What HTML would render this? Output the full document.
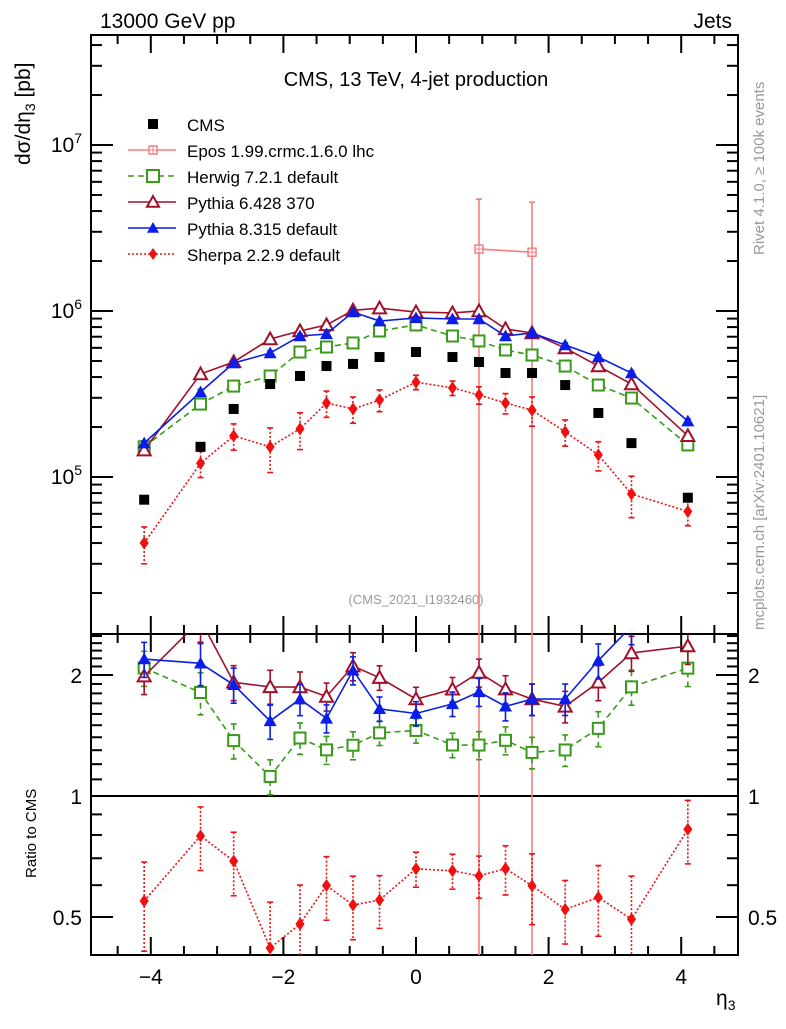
<!DOCTYPE html>
<html><head><meta charset="utf-8"><style>
body{margin:0;background:#fff;}
svg text{font-family:"Liberation Sans",sans-serif;}
</style></head><body>
<svg id="c" width="786" height="1024" xmlns="http://www.w3.org/2000/svg">
<defs>
<clipPath id="cm"><rect x="91" y="35" width="647" height="599"/></clipPath>
<clipPath id="cr"><rect x="91" y="634" width="647" height="321"/></clipPath>
</defs>
<text x="100" y="28" font-size="21">13000 GeV pp</text>
<text x="732" y="28" font-size="21" text-anchor="end">Jets</text>
<text x="416" y="86" font-size="20" text-anchor="middle">CMS, 13 TeV, 4-jet production</text>
<text x="416" y="604" font-size="13" fill="#999" text-anchor="middle">(CMS_2021_I1932460)</text>
<text transform="translate(764,255) rotate(-90)" font-size="15" fill="#999">Rivet 4.1.0, ≥ 100k events</text>
<text transform="translate(764,630) rotate(-90)" font-size="15" fill="#999">mcplots.cern.ch [arXiv:2401.10621]</text>
<text transform="translate(30,165) rotate(-90)" font-size="21">dσ/dη<tspan font-size="14" dy="5">3</tspan><tspan dy="-5"> [pb]</tspan></text>
<text transform="translate(36,878) rotate(-90)" font-size="15">Ratio to CMS</text>
<text x="716" y="1005" font-size="21">η<tspan font-size="14" dy="5">3</tspan></text>
<g id="axes"></g>
<g id="marks"></g>
<g id="legend"></g>
</svg>
<script>
const etas=[-4.1,-3.25,-2.75,-2.2,-1.75,-1.35,-0.95,-0.55,0,0.55,0.95,1.35,1.75,2.25,2.75,3.25,4.1];
const cmsVals=[7.3e4,1.52e5,2.57e5,3.63e5,4.06e5,4.66e5,4.8e5,5.28e5,5.66e5,5.28e5,4.93e5,4.23e5,4.23e5,3.58e5,2.43e5,1.6e5,7.5e4];
const herwigVals=[1.52e5,2.75e5,3.53e5,4.06e5,5.66e5,6.07e5,6.42e5,7.58e5,8.24e5,7.07e5,6.6e5,5.82e5,5.43e5,4.66e5,3.58e5,2.99e5,1.56e5];
const pythia6Vals=[1.45e5,4.17e5,4.93e5,6.78e5,7.58e5,8.24e5,1.01e6,1.04e6,9.86e5,9.73e5,1.0e6,7.8e5,7.37e5,5.98e5,4.66e5,3.63e5,1.77e5];
const pythia8Vals=[1.6e5,3.25e5,4.86e5,5.58e5,7.07e5,7.27e5,9.86e5,8.7e5,9.08e5,8.95e5,8.95e5,7.07e5,7.37e5,6.24e5,5.28e5,4.23e5,2.17e5];
const sherpaVals=[4.0e4,1.21e5,1.77e5,1.52e5,1.95e5,2.79e5,2.57e5,2.91e5,3.73e5,3.44e5,3.12e5,2.79e5,2.53e5,1.87e5,1.36e5,7.9e4,6.2e4];
const eposEtas=[0.95,1.75];
const eposVals=[2.36e6,2.26e6];
const modelRelErr=[0.1,0.12,0.1,0.1,0.09,0.08,0.08,0.07,0.07,0.07,0.08,0.08,0.09,0.09,0.1,0.1,0.1];
const sherpaRelErr=[0.25,0.18,0.18,0.3,0.25,0.18,0.18,0.15,0.1,0.1,0.12,0.14,0.2,0.18,0.2,0.28,0.18];
const xTicks=[-4,-2,0,2,4];
const yTicks=[1e5,1e6,1e7];
const rTicks=[0.5,1,2];

const NS="http://www.w3.org/2000/svg";
const X=v=>416+v*66.3;
const Y=v=>477-166*(Math.log10(v)-5);
const R=v=>796-121*Math.log2(v);
const axes=document.getElementById('axes'),marks=document.getElementById('marks'),leg=document.getElementById('legend');
function el(t,a,p){const e=document.createElementNS(NS,t);for(const k in a)e.setAttribute(k,a[k]);p.appendChild(e);return e;}
let f=el('rect',{x:91,y:35,width:647,height:599,fill:'none',stroke:'#000','stroke-width':2},axes);


f=el('rect',{x:91,y:634,width:647,height:321,fill:'none',stroke:'#000','stroke-width':2},axes);


f=el('line',{x1:91,x2:738,y1:R(1),y2:R(1),stroke:'#000','stroke-width':2},axes);


for(let v=-4.5;v<=4.6;v+=0.5){const maj=Math.abs(v%2)<1e-6;const L=maj?18:9;
 for(const [yb,dir] of [[634,-1],[35,1],[955,-1],[634,1]]){el('line',{x1:X(v),x2:X(v),y1:yb,y2:yb+dir*L,stroke:'#000','stroke-width':2},axes);}}
xTicks.forEach(v=>{const t=el('text',{x:X(v),y:984,'font-size':21,'text-anchor':'middle'},axes);t.textContent=(v<0?'−':'')+Math.abs(v);
 
 });
for(let d=4;d<=7;d++)for(let m=1;m<10;m++){const v=m*Math.pow(10,d);const y=Y(v);if(y<36||y>633)continue;const L=m==1?22:11;
 el('line',{x1:91,x2:91+L,y1:y,y2:y,stroke:'#000','stroke-width':2},axes);el('line',{x1:738,x2:738-L,y1:y,y2:y,stroke:'#000','stroke-width':2},axes);}
yTicks.forEach(v=>{const e=Math.round(Math.log10(v));const t=el('text',{x:82,y:Y(v)+7,'font-size':21,'text-anchor':'end'},axes);
 t.innerHTML='10<tspan font-size="14" dy="-9">'+e+'</tspan>';
 
 });
for(let i=4;i<=25;i++){const v=i/10;const y=R(v);if(y<635||y>954)continue;const maj=(v==0.5||v==1||v==2);const L=maj?22:11;
 el('line',{x1:91,x2:91+L,y1:y,y2:y,stroke:'#000','stroke-width':2},axes);el('line',{x1:738,x2:738-L,y1:y,y2:y,stroke:'#000','stroke-width':2},axes);}
rTicks.forEach(v=>{for(const [x,a] of [[82,'end'],[748,'start']]){const t=el('text',{x:x,y:R(v)+8,'font-size':21,'text-anchor':a},axes);t.textContent=String(v);
 
 }});

function marker(g,type,x,y,col,s){
 if(type=='sq')el('rect',{x:x-s,y:y-s,width:2*s,height:2*s,fill:'#fff',stroke:col,'stroke-width':2},g);
 else if(type=='fsq')el('rect',{x:x-s,y:y-s,width:2*s,height:2*s,fill:col},g);
 else if(type=='otri')el('polygon',{points:`${x},${y-s} ${x-s},${y+s*0.8} ${x+s},${y+s*0.8}`,fill:'#fff',stroke:col,'stroke-width':2},g);
 else if(type=='ftri')el('polygon',{points:`${x},${y-s} ${x-s},${y+s*0.8} ${x+s},${y+s*0.8}`,fill:col},g);
 else if(type=='dia')el('polygon',{points:`${x},${y-s} ${x-s*0.7},${y} ${x},${y+s} ${x+s*0.7},${y}`,fill:col},g);
 else if(type=='cross'){el('rect',{x:x-4,y:y-4,width:8,height:8,fill:'#fff',stroke:col,'stroke-width':1.5},g);el('line',{x1:x-4,x2:x+4,y1:y,y2:y,stroke:col},g);el('line',{x1:x,x2:x,y1:y-4,y2:y+4,stroke:col},g);}
}
function series(name,xs,vals,errs,yf,col,dash,type,size,clip){
 const g=el('g',{'clip-path':`url(#${clip})`},marks);
 
 
 const pts=xs.map((x,i)=>X(x)+','+yf(vals[i])).join(' ');
 el('polyline',{points:pts,fill:'none',stroke:col,'stroke-width':1.6,'stroke-dasharray':dash},g);
 xs.forEach((x,i)=>{const v=vals[i],e=errs[i];const y1=yf(v*(1+e)),y2=Math.min(yf(Math.max(v*(1-e),1e-9)),2000);
  el('line',{x1:X(x),x2:X(x),y1:y1,y2:y2,stroke:col,'stroke-width':1.6,'stroke-dasharray':dash},g);
  el('line',{x1:X(x)-3,x2:X(x)+3,y1:y1,y2:y1,stroke:col,'stroke-width':1.6},g);
  el('line',{x1:X(x)-3,x2:X(x)+3,y1:y2,y2:y2,stroke:col,'stroke-width':1.6},g);
  marker(g,type,X(x),yf(v),col,size);});
}
const ratio=a=>a.map((v,i)=>v/cmsVals[i]);
const pink='#f08080',green='#3a9a1a',dred='#a0102a',blue='#0a1ee8',red='#f01010';
series('epos-series',eposEtas,eposVals,[0.98,0.98].map(e=>e+0.0199),Y,pink,'','cross',5,'cm');
series('herwig-series',etas,herwigVals,modelRelErr.map(e=>e*0.3),Y,green,'6,4','sq',5.5,'cm');
series('pythia6-series',etas,pythia6Vals,modelRelErr.map(e=>e*0.3),Y,dred,'','otri',6.5,'cm');
series('pythia8-series',etas,pythia8Vals,modelRelErr.map(e=>e*0.3),Y,blue,'','ftri',6.5,'cm');
series('sherpa-series',etas,sherpaVals,sherpaRelErr,Y,red,'2,2','dia',6.5,'cm');
const cg=el('g',{},marks);


etas.forEach((x,i)=>marker(cg,'fsq',X(x),Y(cmsVals[i]),'#000',5));
const eg=el('g',{'clip-path':'url(#cr)'},marks);


eposEtas.forEach(x=>el('line',{x1:X(x),x2:X(x),y1:634,y2:955,stroke:pink,'stroke-width':1.6},eg));
series('herwig-ratio',etas,ratio(herwigVals),modelRelErr,R,green,'6,4','sq',5.5,'cr');
series('pythia6-ratio',etas,ratio(pythia6Vals),modelRelErr,R,dred,'','otri',6.5,'cr');
series('pythia8-ratio',etas,ratio(pythia8Vals),modelRelErr,R,blue,'','ftri',6.5,'cr');
series('sherpa-ratio',etas,ratio(sherpaVals),sherpaRelErr,R,red,'2,2','dia',6.5,'cr');
const items=[['CMS','#000','','fsq'],['Epos 1.99.crmc.1.6.0 lhc',pink,'','cross'],['Herwig 7.2.1 default',green,'6,4','sq'],['Pythia 6.428 370',dred,'','otri'],['Pythia 8.315 default',blue,'','ftri'],['Sherpa 2.2.9 default',red,'2,2','dia']];
items.forEach((it,i)=>{const y=124+i*26;const g=el('g',{},leg);
 
 
 if(i>0)el('line',{x1:128,x2:176,y1:y,y2:y,stroke:it[1],'stroke-width':1.6,'stroke-dasharray':it[2]},g);
 marker(g,it[3],153,y,it[1],i==0?5:6);
 const t=el('text',{x:187,y:y+7,'font-size':17},g);t.textContent=it[0];});
</script>
</body></html>
